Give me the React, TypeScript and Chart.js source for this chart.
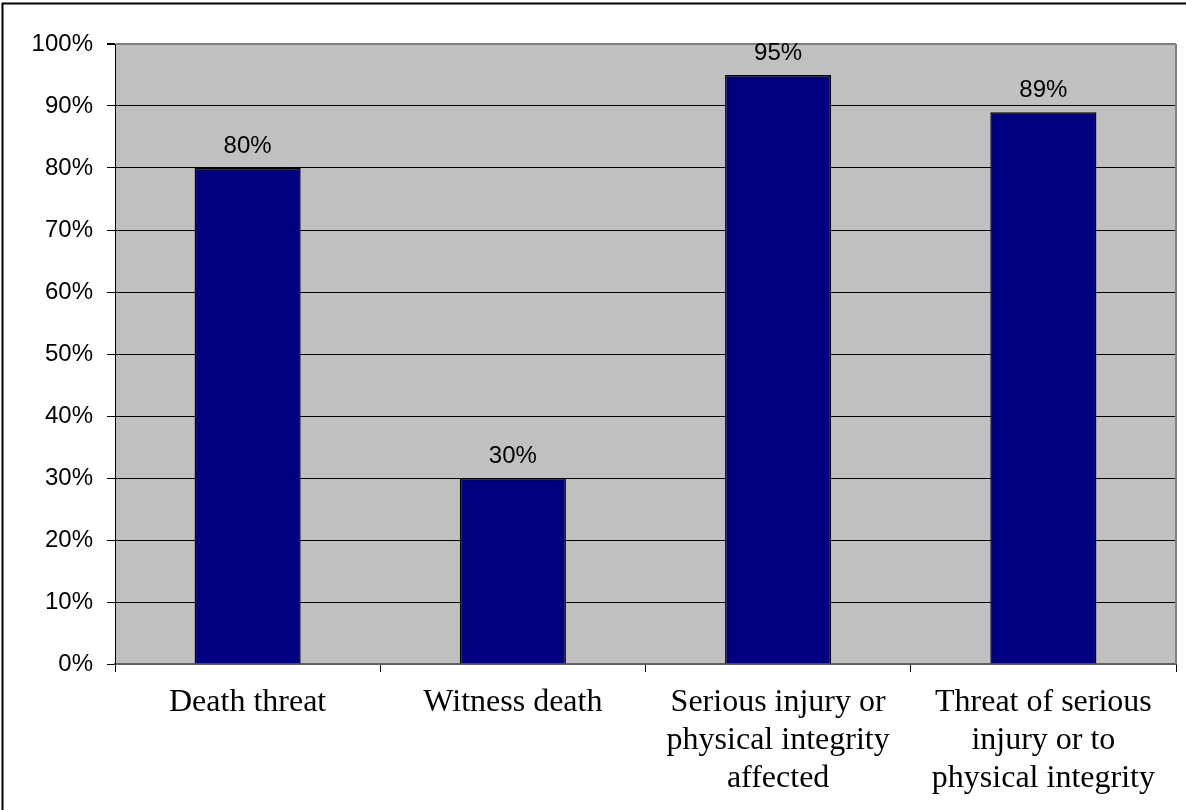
import { useEffect, useRef } from "react";
import { Chart, registerables } from "chart.js";

Chart.register(...registerables);

const categories: string[][] = [
  ["Death threat"],
  ["Witness death"],
  ["Serious injury or", "physical integrity", "affected"],
  ["Threat of serious", "injury or to", "physical integrity"],
];
const values: number[] = [80, 30, 95, 89];
const yMin = 0;
const yMax = 100;
const yStep = 10;

const W = 1186;
const H = 810;

export default function App() {
  const ref = useRef<HTMLCanvasElement | null>(null);

  useEffect(() => {
    if (!ref.current) return;
    const framePlugin = {
      id: "frame",
      beforeDraw(chart: any) {
        const { ctx, chartArea } = chart;
        ctx.save();
        ctx.fillStyle = "#ffffff";
        ctx.fillRect(0, 0, chart.width, chart.height);
        ctx.fillStyle = "#C0C0C0";
        ctx.fillRect(chartArea.left, chartArea.top, chartArea.right - chartArea.left, chartArea.bottom - chartArea.top);
        ctx.restore();
      },
      afterDraw(chart: any) {
        const { ctx, chartArea } = chart;
        ctx.save();
        // right plot border
        ctx.strokeStyle = "#808080";
        ctx.lineWidth = 2;
        ctx.beginPath();
        ctx.moveTo(chartArea.right, chartArea.top);
        ctx.lineTo(chartArea.right, chartArea.bottom);
        ctx.stroke();
        // outer border (top and left)
        ctx.strokeStyle = "#000000";
        ctx.lineWidth = 2;
        ctx.beginPath();
        ctx.moveTo(2.5, H);
        ctx.lineTo(2.5, 3.5);
        ctx.lineTo(W, 3.5);
        ctx.stroke();
        // data labels
        const meta = chart.getDatasetMeta(0);
        ctx.fillStyle = "#000000";
        ctx.font = "24px 'Liberation Sans', Arial, sans-serif";
        ctx.textAlign = "center";
        ctx.textBaseline = "alphabetic";
        meta.data.forEach((bar: any, i: number) => {
          ctx.fillText(values[i] + "%", bar.x, bar.y - 15);
        });
        ctx.restore();
      },
    };

    const chart = new Chart(ref.current, {
      type: "bar",
      data: {
        labels: categories,
        datasets: [
          {
            data: values,
            backgroundColor: "#000080",
            borderColor: "#000000",
            borderWidth: 1.5,
            barPercentage: 0.4,
            categoryPercentage: 1.0,
          },
        ],
      },
      options: {
        animation: false,
        responsive: false,
        maintainAspectRatio: false,
        devicePixelRatio: 1,
        layout: { padding: { left: 0, top: 44, right: 10, bottom: 0 } },
        plugins: { legend: { display: false }, tooltip: { enabled: false } },
        scales: {
          x: {
            grid: {
              offset: true,
              drawOnChartArea: false,
              drawTicks: true,
              tickLength: 8,
              color: "#000000",
              lineWidth: 1,
            },
            border: { display: true, color: "#606060", width: 2 },
            ticks: {
              color: "#000000",
              font: { family: "'Liberation Serif', 'Times New Roman', serif", size: 32, lineHeight: 1.2 },
              padding: 11,
              maxRotation: 0,
              autoSkip: false,
            },
            afterFit(scale: any) {
              scale.height = H - 664;
            },
          },
          y: {
            min: yMin,
            max: yMax,
            ticks: {
              stepSize: yStep,
              color: "#000000",
              font: { family: "'Liberation Sans', Arial, sans-serif", size: 24 },
              padding: 14,
              callback: (v: any) => v + "%",
            },
            grid: {
              color: (c: any) => (c.tick && (c.tick.value === yMax || c.tick.value === yMin) ? "#808080" : "#000000"),
              lineWidth: (c: any) => (c.tick && c.tick.value === yMax ? 2 : 1),
              tickLength: 8,
              tickColor: "#000000",
            },
            border: { display: true, color: "#000000", width: 1 },
            afterFit(scale: any) {
              scale.width = 115;
            },
          },
        },
      },
      plugins: [framePlugin],
    });
    return () => chart.destroy();
  }, []);

  return (
    <div style={{ position: "absolute", left: 0, top: 0, width: W, height: H }}>
      <canvas ref={ref} width={W} height={H} style={{ width: W, height: H, display: "block" }} />
    </div>
  );
}
